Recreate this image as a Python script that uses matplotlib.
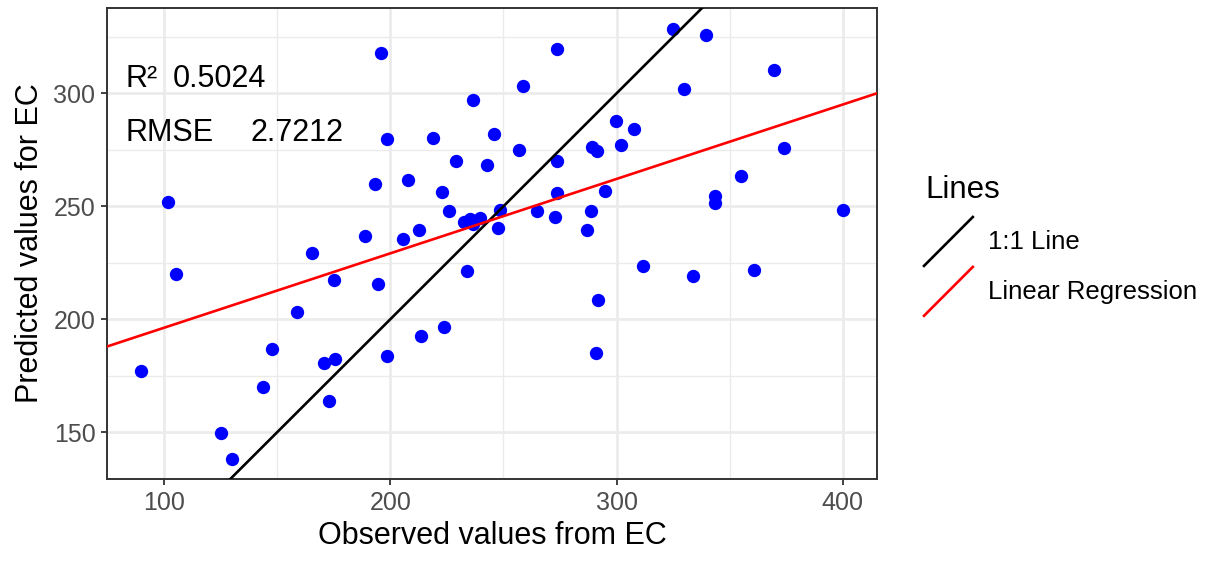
import matplotlib.pyplot as plt
from matplotlib.lines import Line2D
from matplotlib.legend_handler import HandlerBase

plt.rcParams['font.family'] = ['Liberation Sans', 'DejaVu Sans']

observed = [89.7, 101.9, 105.4, 125.2, 129.9, 143.6, 147.7, 158.7, 165.4, 170.7,
            175.6, 175.3, 172.9, 188.9, 193.1, 194.7, 195.9, 198.7, 198.5, 205.8,
            207.7, 212.9, 213.6, 218.8, 222.8, 223.8, 226.0, 229.0, 232.6, 235.3,
            236.7, 239.7, 233.8, 236.7, 242.8, 245.7, 247.8, 248.7, 256.9, 258.8,
            264.8, 272.9, 273.7, 273.7, 273.7, 286.9, 288.8, 289.1, 291.3, 290.9,
            291.7, 294.7, 299.8, 301.9, 307.8, 311.8, 324.9, 329.7, 333.9, 339.7,
            343.7, 343.7, 354.8, 360.8, 369.8, 373.8, 399.9]
predicted = [177.3, 252.0, 219.9, 149.8, 138.3, 169.9, 186.7, 203.1, 229.5, 180.8,
             182.3, 217.4, 164.0, 236.9, 259.9, 215.5, 317.7, 279.6, 183.8, 235.5,
             261.6, 239.3, 192.5, 280.1, 256.2, 196.6, 248.1, 269.9, 243.2, 244.4,
             242.0, 244.7, 221.2, 297.0, 268.3, 282.0, 240.2, 248.2, 274.8, 303.4,
             247.8, 245.1, 319.7, 269.9, 256.0, 239.5, 247.8, 276.4, 274.6, 185.2,
             208.7, 256.8, 287.7, 277.3, 284.3, 223.6, 328.6, 301.9, 219.2, 325.9,
             254.7, 251.3, 263.4, 221.7, 310.4, 275.7, 248.4]

reg_intercept = 163.3
reg_slope = 0.3294
r_squared = "0.5024"
rmse = "2.7212"

x_ticks = [100, 200, 300, 400]
y_ticks = [150, 200, 250, 300]
x_minor = [150, 250, 350]
y_minor = [175, 225, 275, 325]


class DiagonalHandler(HandlerBase):
    # ggplot draws abline keys as a diagonal
    def create_artists(self, legend, orig_handle, xdescent, ydescent,
                       width, height, fontsize, trans):
        line = Line2D([-xdescent, -xdescent + width],
                      [-ydescent, -ydescent + height],
                      color=orig_handle.get_color(),
                      lw=orig_handle.get_linewidth(), transform=trans)
        return [line]


fig = plt.figure(figsize=(12.09, 5.61), dpi=100)
ax = fig.add_axes([107 / 1209, 82 / 561, 770 / 1209, 471.5 / 561])

ax.scatter(observed, predicted, s=92, color='#0000FF', linewidths=0, zorder=2)
one_to_one = ax.axline((0, 0), slope=1, color='black', lw=1.9, zorder=3)
regression = ax.axline((0, reg_intercept), slope=reg_slope, color='#FF0000',
                       lw=1.9, zorder=3)

ax.text(82.8, 303.0, "R²", fontsize=22, va='baseline')
ax.text(104.0, 303.0, r_squared, fontsize=22, va='baseline')
ax.text(82.8, 279.0, "RMSE", fontsize=22, va='baseline')
ax.text(138.0, 279.0, rmse, fontsize=22, va='baseline')

ax.set_xlim(74.8, 415.1)
ax.set_ylim(129.3, 338)
ax.set_xticks(x_ticks)
ax.set_yticks(y_ticks)
ax.set_xticks(x_minor, minor=True)
ax.set_yticks(y_minor, minor=True)
ax.grid(which='major', color='#EBEBEB', lw=1.9)
ax.grid(which='minor', color='#EBEBEB', lw=1.0)
ax.set_axisbelow(True)
ax.tick_params(which='major', length=4.3, width=1.3, color='#333333',
               labelsize=18, labelcolor='#4D4D4D', pad=4)
ax.tick_params(which='minor', length=0)
for s in ax.spines.values():
    s.set_color('#333333')
    s.set_linewidth(1.4)

ax.set_xlabel("Observed values from EC", fontsize=22, labelpad=5)
ax.set_ylabel("Predicted values for EC", fontsize=22, labelpad=6)

fig.text(925 / 1209, 1 - 198 / 561, "Lines", fontsize=22.5, va='baseline')
fig.legend([one_to_one, regression], ["1:1 Line", "Linear Regression"],
           handler_map={Line2D: DiagonalHandler()}, fontsize=18.5,
           loc='upper left', bbox_to_anchor=(924 / 1209, 1 - 217 / 561),
           frameon=False, borderpad=0, borderaxespad=0,
           handlelength=1.9, handleheight=2.55, handletextpad=0.6,
           labelspacing=0.04)

fig.savefig("out.png", dpi=100)
